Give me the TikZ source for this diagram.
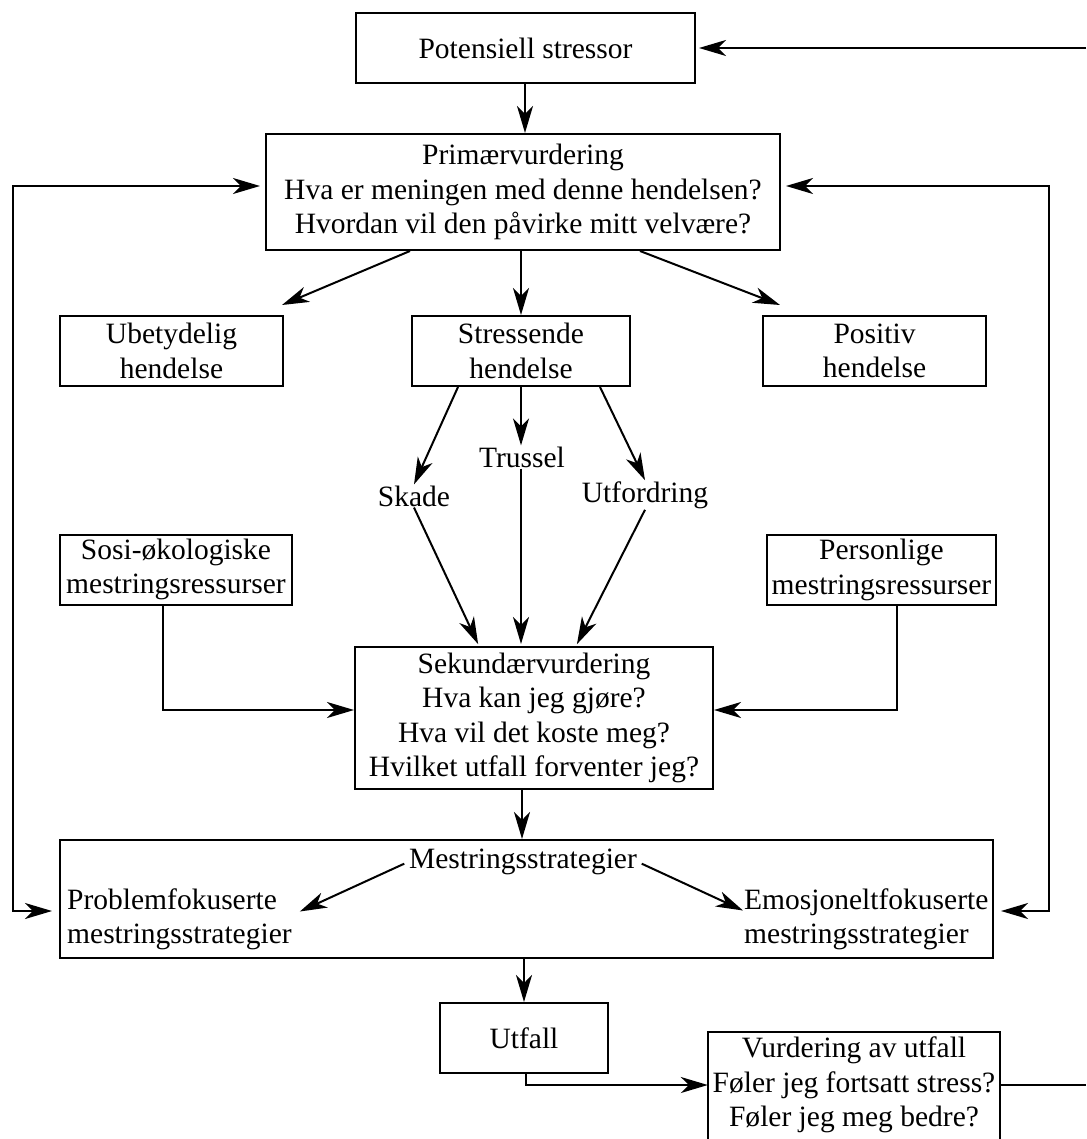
\documentclass[tikz,border=0pt]{standalone}
\usepackage{fontspec}
\setmainfont{Liberation Serif}
\usetikzlibrary{arrows.meta,calc}
\tikzset{
  box/.style={draw, line width=2pt, align=center, inner sep=0pt},
  lbl/.style={inner sep=1pt, align=center},
  plain/.style={inner sep=0pt, align=left},
  ln/.style={line width=2pt},
  tip/.tip={Stealth[length=27pt,width=16pt,inset=8pt]},
  arr/.style={line width=2pt, -tip},
  darr/.style={line width=2pt, tip-tip}
}
\begin{document}
\begin{tikzpicture}[x=1pt,y=-1pt,font=\fontsize{29.5}{34.5}\selectfont]
\clip (0,0) rectangle (1086,1139);
\fill[white] (0,0) rectangle (1086,1139);

% boxes
\node[box, minimum width=339pt, minimum height=70pt] (pot) at (525.5,48) {Potensiell stressor};
\node[box, minimum width=514pt, minimum height=116pt] (prim) at (523,192) {Primærvurdering\\Hva er meningen med denne hendelsen?\\Hvordan vil den påvirke mitt velvære?};
\node[box, minimum width=223pt, minimum height=70pt] (ubet) at (171.5,351) {Ubetydelig\\hendelse};
\node[box, minimum width=218pt, minimum height=70pt] (stres) at (521,351) {Stressende\\hendelse};
\node[box, minimum width=223pt, minimum height=70pt] (posi) at (874.5,351) {Positiv\\hendelse};

\node[lbl] (trussel) at (522,457) {Trussel};
\node[lbl] (skade) at (414,496) {Skade};
\node[lbl] (utf) at (645,495) {Utfordring};

\node[box, minimum width=232pt, minimum height=70pt] (sosi) at (176,569.5) {Sosi-økologiske\\mestringsressurser};
\node[box, minimum width=229pt, minimum height=70pt] (pers) at (881.5,570) {Personlige\\mestringsressurser};

\node[box, minimum width=358pt, minimum height=142pt] (sek) at (534,718) {Sekundærvurdering\\Hva kan jeg gjøre?\\Hva vil det koste meg?\\Hvilket utfall forventer jeg?};

\node[box, minimum width=933pt, minimum height=118pt] (mest) at (526.5,899) {};
\node[lbl] (mtitle) at (523,862) {Mestringsstrategier};
\node[plain, anchor=west] (prob) at (67,919.5) {Problemfokuserte\\mestringsstrategier};
\node[plain, anchor=west] (emo) at (744,919.5) {Emosjoneltfokuserte\\mestringsstrategier};

\node[box, minimum width=168pt, minimum height=70pt] (utfall) at (524,1038) {Utfall};
\node[inner sep=0pt, align=center, minimum width=292pt, minimum height=106pt] (vurd) at (854,1085) {Vurdering av utfall\\Føler jeg fortsatt stress?\\Føler jeg meg bedre?};
\draw[ln] ([yshift=-40pt]vurd.south west) -- (vurd.north west) -- (vurd.north east) -- ([yshift=-40pt]vurd.south east);

% free ends
\coordinate (TR) at (1086,48);
\coordinate (BR) at (1086,1085);
\coordinate (L1) at (13,186);
\coordinate (L2) at (13,911);
\coordinate (R1) at (1049,186);
\coordinate (R2) at (1049,911);

% connectors
\draw[arr, shorten >=3pt] (TR) -- (pot.east);
\draw[arr] (pot.south -| 525,0) -- (prim.north -| 525,0);
\draw[darr, shorten <=5pt, shorten >=7pt] (prim.west |- L1) -- (L1) -- (L2) -- (mest.west |- L2);
\draw[darr, shorten <=5pt, shorten >=7pt] (prim.east |- R1) -- (R1) -- (R2) -- (mest.east |- R2);

\draw[arr] (prim.south -| 410,0) -- ([xshift=-2pt,yshift=10pt]ubet.north east);
\draw[arr] (prim.south -| 521,0) -- (stres.north -| 521,0);
\draw[arr] (prim.south -| 640,0) -- ([xshift=18pt,yshift=10pt]posi.north west);

\draw[arr] (stres.south -| 458,0) -- (skade.north);
\draw[arr] (stres.south -| 521,0) -- (trussel.north -| 521,0);
\draw[arr] (stres.south -| 600,0) -- (utf.north);

\draw[arr, shorten >=2pt] (skade.south) -- (sek.north -| 479,0);
\draw[arr, shorten >=2pt] (trussel.south -| 521,0) -- (sek.north -| 521,0);
\draw[arr, shorten >=2pt] (utf.south) -- (sek.north -| 576,0);

\draw[arr] (sosi.south -| 163,0) |- ([yshift=8pt]sek.west);
\draw[arr] (pers.south -| 897,0) |- ([yshift=8pt]sek.east);

\draw[arr] (sek.south -| 522,0) -- (mest.north -| 522,0);
\draw[arr, shorten <=4pt] (mtitle.west) -- ($(prob.east)+(8,-8)$);
\draw[arr, shorten <=4pt] (mtitle.east) -- ($(emo.west)+(-1,-9)$);

\draw[arr] (mest.south -| 524,0) -- (utfall.north);
\draw[arr] (utfall.south -| 526,0) |- (vurd.west);
\draw[ln] (vurd.east) -- (BR);
\end{tikzpicture}
\end{document}
